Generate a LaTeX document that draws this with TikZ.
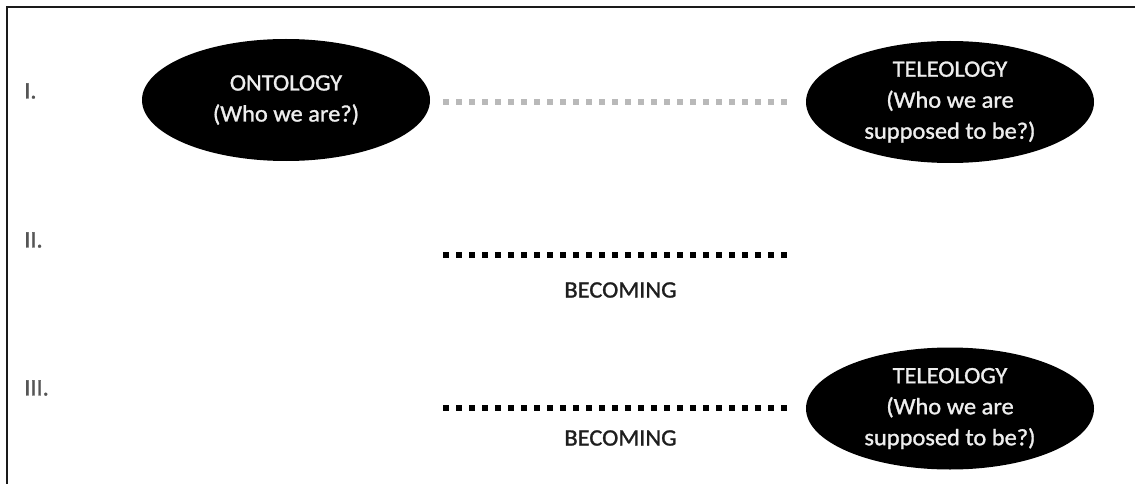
\documentclass[tikz,border=0pt]{standalone}
\usepackage{fontspec}
\setmainfont{Carlito}
\newfontfamily\diagfont[FakeBold=1.2, FakeStretch=1.04]{Carlito}
\usetikzlibrary{shapes.geometric}
\definecolor{framecol}{RGB}{26,26,26}
\definecolor{numcol}{RGB}{85,85,85}
\definecolor{softdots}{RGB}{185,185,185}
\definecolor{inktext}{RGB}{30,30,30}
\definecolor{blobtext}{RGB}{238,238,238}
\tikzset{
  blob/.style={ellipse, fill=black, draw=none, inner sep=0pt,
    minimum width=288pt, minimum height=122pt, text=blobtext,
    align=center, font=\diagfont\fontsize{23.5}{31}\selectfont},
  rownum/.style={anchor=west, text=numcol, inner sep=0pt,
    font=\diagfont\fontsize{23.5}{26}\selectfont},
  caption/.style={text=inktext, inner sep=0pt,
    font=\diagfont\fontsize{23.5}{26}\selectfont},
  squaredots/.style={line width=6pt, dash pattern=on 6pt off 7pt},
}
\begin{document}
\begin{tikzpicture}[x=1pt, y=-1pt]
  \useasboundingbox (0,0) rectangle (1135,484);
  % partial frame: top and left edges
  \draw[framecol, line width=2pt] (6.7,484) -- (6.7,6.7) -- (1135,6.7);

  % row numbers
  \node[rownum] (n1) at (24,91)  {I.};
  \node[rownum] (n2) at (24,240) {II.};
  \node[rownum] (n3) at (24,388) {III.};

  % row I
  \node[blob] (onto) at (286,100) {ONTOLOGY\\(Who we are?)};
  \node[blob] (tele1) at (950,102) {TELEOLOGY\\(Who we are\\supposed to be?)};
  \coordinate (a1) at (443,101.7);
  \coordinate (b1) at (788,101.7);
  \draw[squaredots, softdots] (a1) -- (b1);

  % row II
  \coordinate (a2) at (443,255);
  \coordinate (b2) at (788,255);
  \draw[squaredots, black] (a2) -- (b2);
  \node[caption] (bec2) at (620.5,290) {BECOMING};

  % row III
  \node[blob] (tele3) at (950,408.5) {TELEOLOGY\\(Who we are\\supposed to be?)};
  \coordinate (a3) at (443,408);
  \coordinate (b3) at (788,408);
  \draw[squaredots, black] (a3) -- (b3);
  \node[caption] (bec3) at (620.5,438) {BECOMING};
\end{tikzpicture}
\end{document}
